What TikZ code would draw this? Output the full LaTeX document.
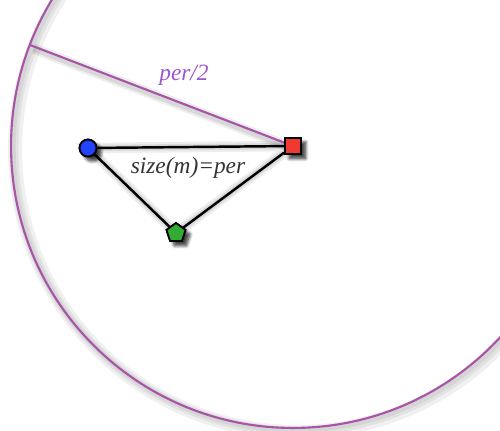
\documentclass[tikz,border=0pt]{standalone}
\usepackage{fontspec}
\setmainfont{Liberation Serif}
\usetikzlibrary{shapes.geometric,shadows.blur}
\definecolor{circcol}{HTML}{A855A8}
\definecolor{labcol}{HTML}{9B55CF}
\definecolor{bluen}{HTML}{2244FF}
\definecolor{redn}{HTML}{F03A30}
\definecolor{greenn}{HTML}{33AA33}
\tikzset{
  nd/.style={draw=black, line width=1pt, inner sep=0pt, blur shadow={shadow xshift=2.5pt, shadow yshift=-2.5pt, shadow blur steps=6, shadow opacity=50}},
  edgeline/.style={draw=black, line width=1.4pt},
  circline/.style={draw=circcol, line width=1.2pt},
  shade1/.style={draw=black, opacity=0.07, line width=6pt},
  shade2/.style={draw=black, opacity=0.09, line width=3.5pt},
  lab/.style={font=\fontsize{13.3}{15}\selectfont\itshape}
}
\begin{document}
\begin{tikzpicture}[x=0.02cm,y=-0.02cm]
\useasboundingbox (0,0) rectangle (500,430);
\coordinate (ctr) at (293,146);
\coordinate (e) at (30,45);
\begin{scope}
\clip (0,0) rectangle (500,430);
% circle shadow
\foreach \d/\w in {3/5pt,2/3pt,4/8pt}{
  \draw[black, opacity=0.06, line width=\w] ([xshift=\d*0.02cm, yshift=-\d*0.02cm]ctr) circle[radius=5.64cm];
}
\draw[circline] (ctr) circle[radius=5.64cm];
% radius shadow
\draw[shade1] ([xshift=0.07cm,yshift=-0.07cm]ctr) -- ([xshift=0.07cm,yshift=-0.07cm]e);
\draw[shade2] ([xshift=0.07cm,yshift=-0.07cm]ctr) -- ([xshift=0.07cm,yshift=-0.07cm]e);
\end{scope}
\node[nd, circle, fill=bluen, minimum size=0.34cm] (b) at (88,148) {};
\node[nd, rectangle, fill=redn, minimum size=0.32cm] (r) at (293,146) {};
\node[nd, regular polygon, regular polygon sides=5, fill=greenn, minimum size=0.4cm] (g) at (176,233) {};
% triangle shadows
\begin{scope}[xshift=0.07cm, yshift=-0.07cm]
\draw[shade1] (b.center) -- (r.center) -- (g.center) -- cycle;
\draw[shade2] (b.center) -- (r.center) -- (g.center) -- cycle;
\end{scope}
\draw[circline] (r.center) -- (e);
\draw[edgeline] (b) -- (r);
\draw[edgeline] (r) -- (g);
\draw[edgeline] (g) -- (b);
\node[nd, circle, fill=bluen, minimum size=0.34cm] at (b) {};
\node[nd, rectangle, fill=redn, minimum size=0.32cm] at (r) {};
\node[nd, regular polygon, regular polygon sides=5, fill=greenn, minimum size=0.4cm] at (g) {};
\node[lab, text=labcol] (l1) at (184,75) {per/2};
\node[lab, text=black!80] (l2) at (188,168) {size(m)=per};
\end{tikzpicture}
\end{document}
